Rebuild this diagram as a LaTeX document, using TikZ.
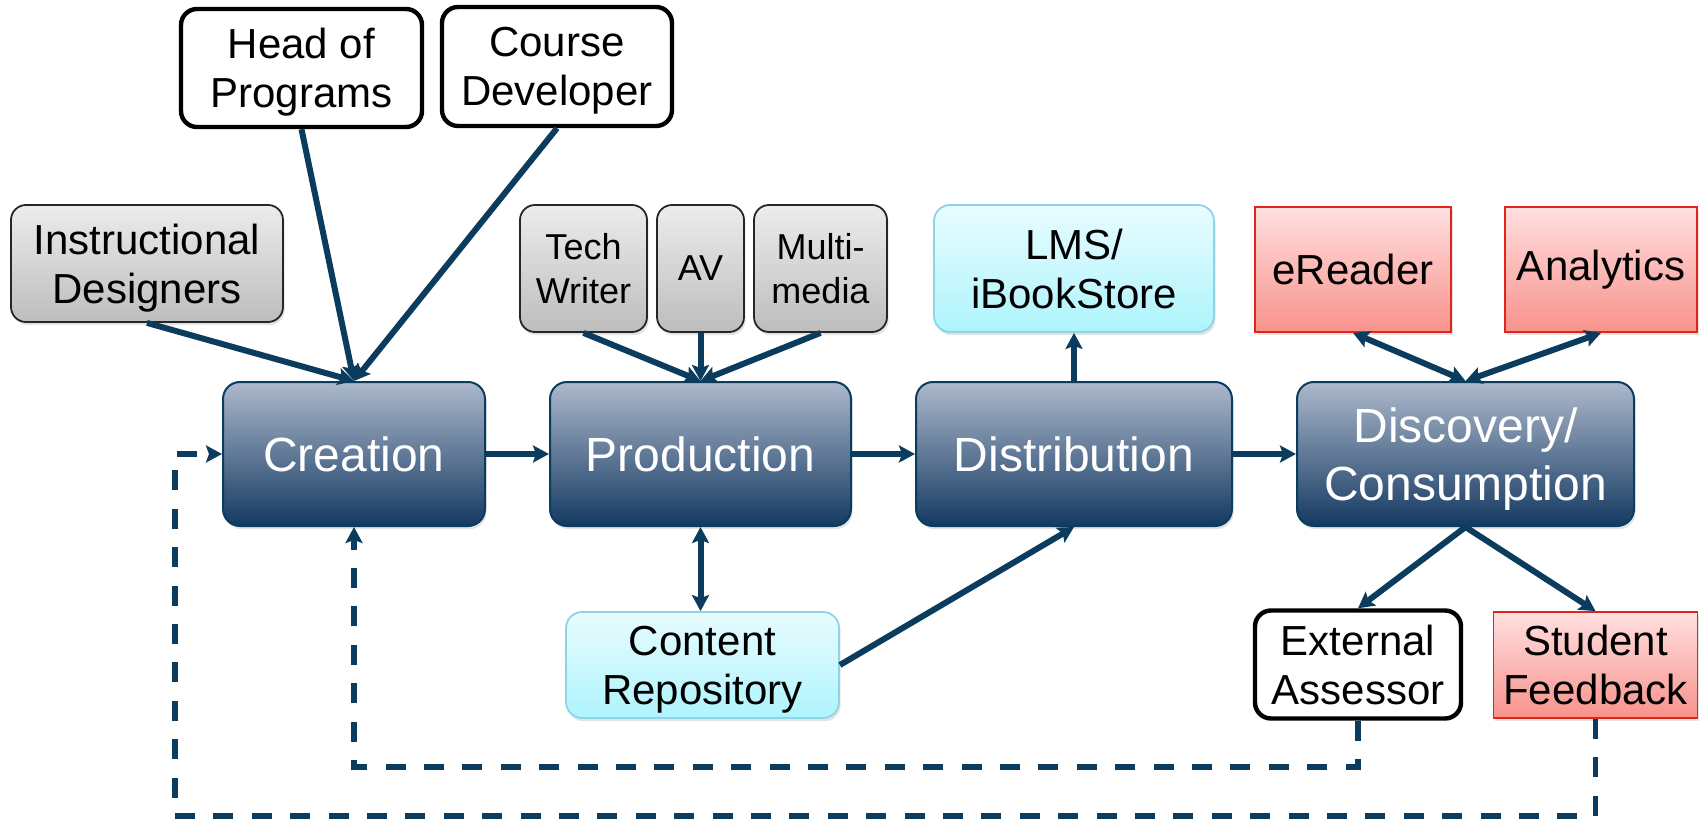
\documentclass[tikz,border=0pt]{standalone}
\usepackage{fontspec}
\setmainfont{Liberation Sans}
\usetikzlibrary{arrows.meta,shadows,calc}
\definecolor{navy}{RGB}{11,60,94}
\definecolor{maintop}{RGB}{173,185,204}
\definecolor{mainbot}{RGB}{20,57,98}
\definecolor{graytop}{RGB}{236,236,236}
\definecolor{graybot}{RGB}{189,189,189}
\definecolor{cyantop}{RGB}{232,252,255}
\definecolor{cyanbot}{RGB}{174,244,252}
\definecolor{cyanline}{RGB}{140,212,230}
\definecolor{redtop}{RGB}{255,224,224}
\definecolor{redbot}{RGB}{248,146,140}
\definecolor{redline}{RGB}{224,37,27}
\newcommand\nodesc[1]{\raisebox{0pt}[\height][0pt]{#1}}
\tikzset{
  x=0.5pt, y=-0.5pt,
  shad/.style={drop shadow={opacity=0.22,shadow xshift=0.8pt,shadow yshift=-1.6pt}},
  mainbox/.style={shad, rounded corners=8.5pt, draw=navy, line width=1pt,
    top color=maintop, bottom color=mainbot, text=white, align=center, inner sep=0pt,
    minimum height=72pt, font=\fontsize{24}{29}\selectfont},
  graybox/.style={shad, rounded corners=7.5pt, draw=black!85, line width=0.9pt,
    top color=graytop, bottom color=graybot, align=center, inner sep=0pt},
  whitebox/.style={rounded corners=8pt, draw=black, line width=2.2pt, fill=white,
    align=center, inner sep=0pt, font=\fontsize{21}{24.5}\selectfont},
  cyanbox/.style={shad, rounded corners=8pt, draw=cyanline, line width=0.9pt,
    top color=cyantop, bottom color=cyanbot, align=center, inner sep=0pt,
    font=\fontsize{21}{24.5}\selectfont},
  redbox/.style={shad, draw=redline, line width=0.9pt,
    top color=redtop, bottom color=redbot, align=center, inner sep=0pt,
    font=\fontsize{21}{24.5}\selectfont},
  sub/.style={font=\fontsize{21}{24.5}\selectfont},
  small/.style={font=\fontsize{18}{22}\selectfont},
  tip/.tip={Stealth[length=8pt,width=8.5pt,inset=1.5pt]},
  conn/.style={draw=navy, line width=3pt, -tip},
  dconn/.style={draw=navy, line width=3pt, tip-tip},
  dashconn/.style={draw=navy, line width=2.9pt, dash pattern=on 10pt off 9.2pt, -tip},
}
\begin{document}
\begin{tikzpicture}
\useasboundingbox (0,0) rectangle (1701,823);
% top row of people
\node[whitebox, minimum width=120.5pt, minimum height=59pt] (hop) at (301.5,68) {Head of\\\nodesc{Programs}};
\node[whitebox, minimum width=115pt, minimum height=59.5pt] (cd) at (557,66.5) {Course\\\nodesc{Developer}};
\node[graybox, sub, minimum width=136pt, minimum height=58.5pt] (idz) at (147,263.5) {Instructional\\\nodesc{Designers}};
% production team
\node[graybox, small, minimum width=63.5pt, minimum height=63.5pt] (tw) at (583.5,268.5) {Tech\\Writer};
\node[graybox, small, minimum width=43.5pt, minimum height=63.5pt] (av) at (700.5,268.5) {AV};
\node[graybox, small, minimum width=66.5pt, minimum height=63.5pt] (mm) at (820.5,268.5) {Multi-\\media};
\node[cyanbox, minimum width=140pt, minimum height=63.5pt] (lms) at (1074,268.5) {LMS/\\iBookStore};
\node[redbox, minimum width=98pt, minimum height=62.5pt] (er) at (1353,269.5) {eReader};
\node[redbox, minimum width=96pt, minimum height=62.5pt] (an) at (1601,269.5) {Analytics};
% main flow
\node[mainbox, minimum width=131pt] (crea) at (354,454) {Creation};
\node[mainbox, minimum width=150.5pt] (prod) at (700.5,454) {Production};
\node[mainbox, minimum width=158pt] (dist) at (1074,454) {Distribution};
\node[mainbox, minimum width=168.5pt] (disc) at (1465.5,454) {Discovery/\\\nodesc{Consumption}};
% bottom row
\node[cyanbox, minimum width=136.5pt, minimum height=53pt] (cr) at (702.5,665) {Content\\\nodesc{Repository}};
\node[whitebox, minimum width=103pt, minimum height=54pt] (ea) at (1358,664.5) {External\\Assessor};
\node[redbox, minimum width=102pt, minimum height=53pt] (sf) at (1595.5,665) {Student\\Feedback};
\coordinate (outerL) at (175,816);
% connectors
\draw[conn] (idz.south) -- (crea.north);
\draw[conn] (hop.south) -- (crea.north);
\draw[conn] (cd.south) -- (crea.north);
\draw[conn] (tw.south) -- (prod.north);
\draw[conn] (av.south) -- (prod.north);
\draw[conn] (mm.south) -- (prod.north);
\draw[conn] (dist.north) -- (lms.south);
\draw[conn] (crea.east) -- (prod.west);
\draw[conn] (prod.east) -- (dist.west);
\draw[conn] (dist.east) -- (disc.west);
\draw[dconn] (prod.south) -- (prod.south |- cr.north);
\draw[conn] (cr.east) -- (dist.south);
\draw[dconn] (er.south) -- (disc.north);
\draw[dconn] (an.south) -- (disc.north);
\draw[conn] (disc.south) -- (ea.north);
\draw[conn] (disc.south) -- (sf.north);
% feedback loops
\draw[dashconn] (ea.south) -- ++(0,46) -| (crea.south);
\draw[dashconn] (sf.south) |- (outerL) |- (crea.west);
\end{tikzpicture}
\end{document}
